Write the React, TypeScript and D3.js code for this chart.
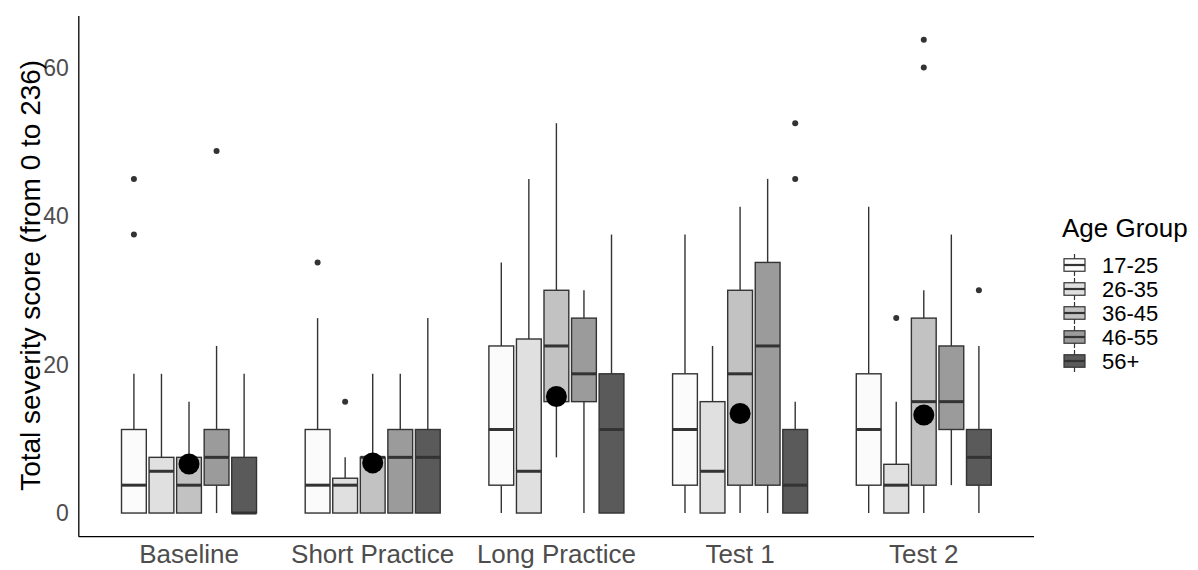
import { useEffect, useRef } from "react";
import * as d3 from "d3";

const phases = ["Baseline", "Short Practice", "Long Practice", "Test 1", "Test 2"];
const ageGroups = ["17-25", "26-35", "36-45", "46-55", "56+"];
const fills = ["#FBFBFB", "#E0E0E0", "#C2C2C2", "#9B9B9B", "#5A5A5A"];

// [lower whisker, q1, median, q3, upper whisker] for each age group
const baseline = [[0, 0, 3.75, 11.25, 18.75], [0, 0, 5.625, 7.5, 18.75], [0, 0, 3.75, 7.5, 15], [0, 3.75, 7.5, 11.25, 22.5], [0, 0, 0, 7.5, 18.75]];
const shortPractice = [[0, 0, 3.75, 11.25, 26.25], [0, 0, 3.75, 4.6875, 7.5], [0, 0, 7.5, 7.5, 18.75], [0, 0, 7.5, 11.25, 18.75], [0, 0, 7.5, 11.25, 26.25]];
const longPractice = [[0, 3.75, 11.25, 22.5, 33.75], [0, 0, 5.625, 23.4375, 45], [7.5, 15, 22.5, 30, 52.5], [0, 15, 18.75, 26.25, 30], [0, 0, 11.25, 18.75, 37.5]];
const test1 = [[0, 3.75, 11.25, 18.75, 37.5], [0, 0, 5.625, 15, 22.5], [0, 3.75, 18.75, 30, 41.25], [0, 3.75, 22.5, 33.75, 45], [0, 0, 3.75, 11.25, 15]];
const test2 = [[0, 3.75, 11.25, 18.75, 41.25], [0, 0, 3.75, 6.5625, 15], [0, 3.75, 15, 26.25, 30], [3.75, 11.25, 15, 22.5, 37.5], [0, 3.75, 7.5, 11.25, 22.5]];
const boxStats = [baseline, shortPractice, longPractice, test1, test2];

const outliers = [
  { phase: "Baseline", group: "17-25", value: 37.5 },
  { phase: "Baseline", group: "17-25", value: 45 },
  { phase: "Baseline", group: "46-55", value: 48.75 },
  { phase: "Short Practice", group: "17-25", value: 33.75 },
  { phase: "Short Practice", group: "26-35", value: 15 },
  { phase: "Test 1", group: "56+", value: 45 },
  { phase: "Test 1", group: "56+", value: 52.5 },
  { phase: "Test 2", group: "26-35", value: 26.25 },
  { phase: "Test 2", group: "36-45", value: 60 },
  { phase: "Test 2", group: "36-45", value: 63.75 },
  { phase: "Test 2", group: "56+", value: 30 },
];

const phaseMeans = [6.6, 6.75, 15.7, 13.4, 13.2];
const yTicks = [0, 20, 40, 60];

const font = "'Liberation Sans', Arial, sans-serif";

const App = () => {
  const ref = useRef<SVGSVGElement>(null);

  useEffect(() => {
    document.body.style.margin = "0";
    const svg = d3.select(ref.current);
    svg.selectAll("*").remove();

    const left = 78.8, right = 1034, top = 16, bottom = 536.7;

    const x = d3.scaleBand().domain(phases).range([left, right]).paddingInner(0).paddingOuter(0.1);
    const step = x.step();
    const inner = d3.scaleBand().domain(ageGroups).range([-0.375 * step, 0.375 * step]);
    const boxW = inner.bandwidth() * 0.9;
    const y = d3.scaleLinear().domain([-3.1875, 66.9375]).range([bottom, top]);
    const fill = d3.scaleOrdinal<string, string>().domain(ageGroups).range(fills);

    const cx = (p: string, g: string) => x(p)! + x.bandwidth() / 2 + inner(g)! + inner.bandwidth() / 2;

    const plot = svg.append("g");

    phases.forEach((p, pi) => {
      boxStats[pi].forEach((s, gi) => {
        const g = ageGroups[gi];
        const c = cx(p, g);
        const [lo, q1, med, q3, hi] = s;
        plot.append("line").attr("x1", c).attr("x2", c).attr("y1", y(hi)).attr("y2", y(q3))
          .attr("stroke", "#333").attr("stroke-width", 1.4);
        plot.append("line").attr("x1", c).attr("x2", c).attr("y1", y(q1)).attr("y2", y(lo))
          .attr("stroke", "#333").attr("stroke-width", 1.4);
        plot.append("rect").attr("x", c - boxW / 2).attr("width", boxW)
          .attr("y", y(q3)).attr("height", y(q1) - y(q3))
          .attr("fill", fill(g)).attr("stroke", "#333").attr("stroke-width", 1.4);
        plot.append("line").attr("x1", c - boxW / 2).attr("x2", c + boxW / 2)
          .attr("y1", y(med)).attr("y2", y(med)).attr("stroke", "#333").attr("stroke-width", 3);
      });
    });

    plot.selectAll(".outlier").data(outliers).enter().append("circle")
      .attr("cx", d => cx(d.phase, d.group)).attr("cy", d => y(d.value))
      .attr("r", 3).attr("fill", "#333");

    plot.selectAll(".mean").data(phaseMeans).enter().append("circle")
      .attr("cx", (d, i) => x(phases[i])! + x.bandwidth() / 2).attr("cy", d => y(d))
      .attr("r", 10.5).attr("fill", "#000");

    // axes
    svg.append("line").attr("x1", left).attr("x2", left).attr("y1", top).attr("y2", bottom)
      .attr("stroke", "#000").attr("stroke-width", 1.3);
    svg.append("line").attr("x1", left).attr("x2", right).attr("y1", bottom).attr("y2", bottom)
      .attr("stroke", "#000").attr("stroke-width", 1.3);

    svg.selectAll(".ytick").data(yTicks).enter().append("text")
      .attr("x", left - 10).attr("y", d => y(d)).attr("dy", "0.36em")
      .attr("text-anchor", "end").attr("fill", "#4D4D4D")
      .style("font-family", font).style("font-size", "23px").text(d => d);

    svg.selectAll(".xtick").data(phases).enter().append("text")
      .attr("x", d => x(d)! + x.bandwidth() / 2).attr("y", 563)
      .attr("text-anchor", "middle").attr("fill", "#4D4D4D")
      .style("font-family", font).style("font-size", "26px").text(d => d);

    svg.append("text")
      .attr("transform", `translate(30,${(top + bottom) / 2 - 1}) rotate(-90)`)
      .attr("text-anchor", "middle").attr("dy", "0.36em")
      .style("font-family", font).style("font-size", "28px").attr("fill", "#000")
      .text("Total severity score (from 0 to 236)");

    // legend
    const lg = svg.append("g").attr("transform", "translate(1062,0)");
    lg.append("text").attr("x", 0).attr("y", 237)
      .style("font-family", font).style("font-size", "26px").attr("fill", "#000")
      .text("Age Group");
    const keyH = 24;
    ageGroups.forEach((g, i) => {
      const cy = 265 + i * keyH;
      const kx = 2, kw = 21, bh = 12.5;
      lg.append("line").attr("x1", kx + kw / 2).attr("x2", kx + kw / 2)
        .attr("y1", cy - keyH / 2 + 1).attr("y2", cy + keyH / 2 - 1)
        .attr("stroke", "#333").attr("stroke-width", 1.2);
      lg.append("rect").attr("x", kx).attr("y", cy - bh / 2).attr("width", kw).attr("height", bh)
        .attr("fill", fill(g)).attr("stroke", "#333").attr("stroke-width", 1.2);
      lg.append("line").attr("x1", kx).attr("x2", kx + kw).attr("y1", cy).attr("y2", cy)
        .attr("stroke", "#333").attr("stroke-width", 2.2);
      lg.append("text").attr("x", 40).attr("y", cy).attr("dy", "0.36em")
        .style("font-family", font).style("font-size", "22px").attr("fill", "#000")
        .text(g);
    });
  }, []);

  return <svg ref={ref} width={1198} height={570} style={{ display: "block", background: "#fff" }} />;
};

export default App;
